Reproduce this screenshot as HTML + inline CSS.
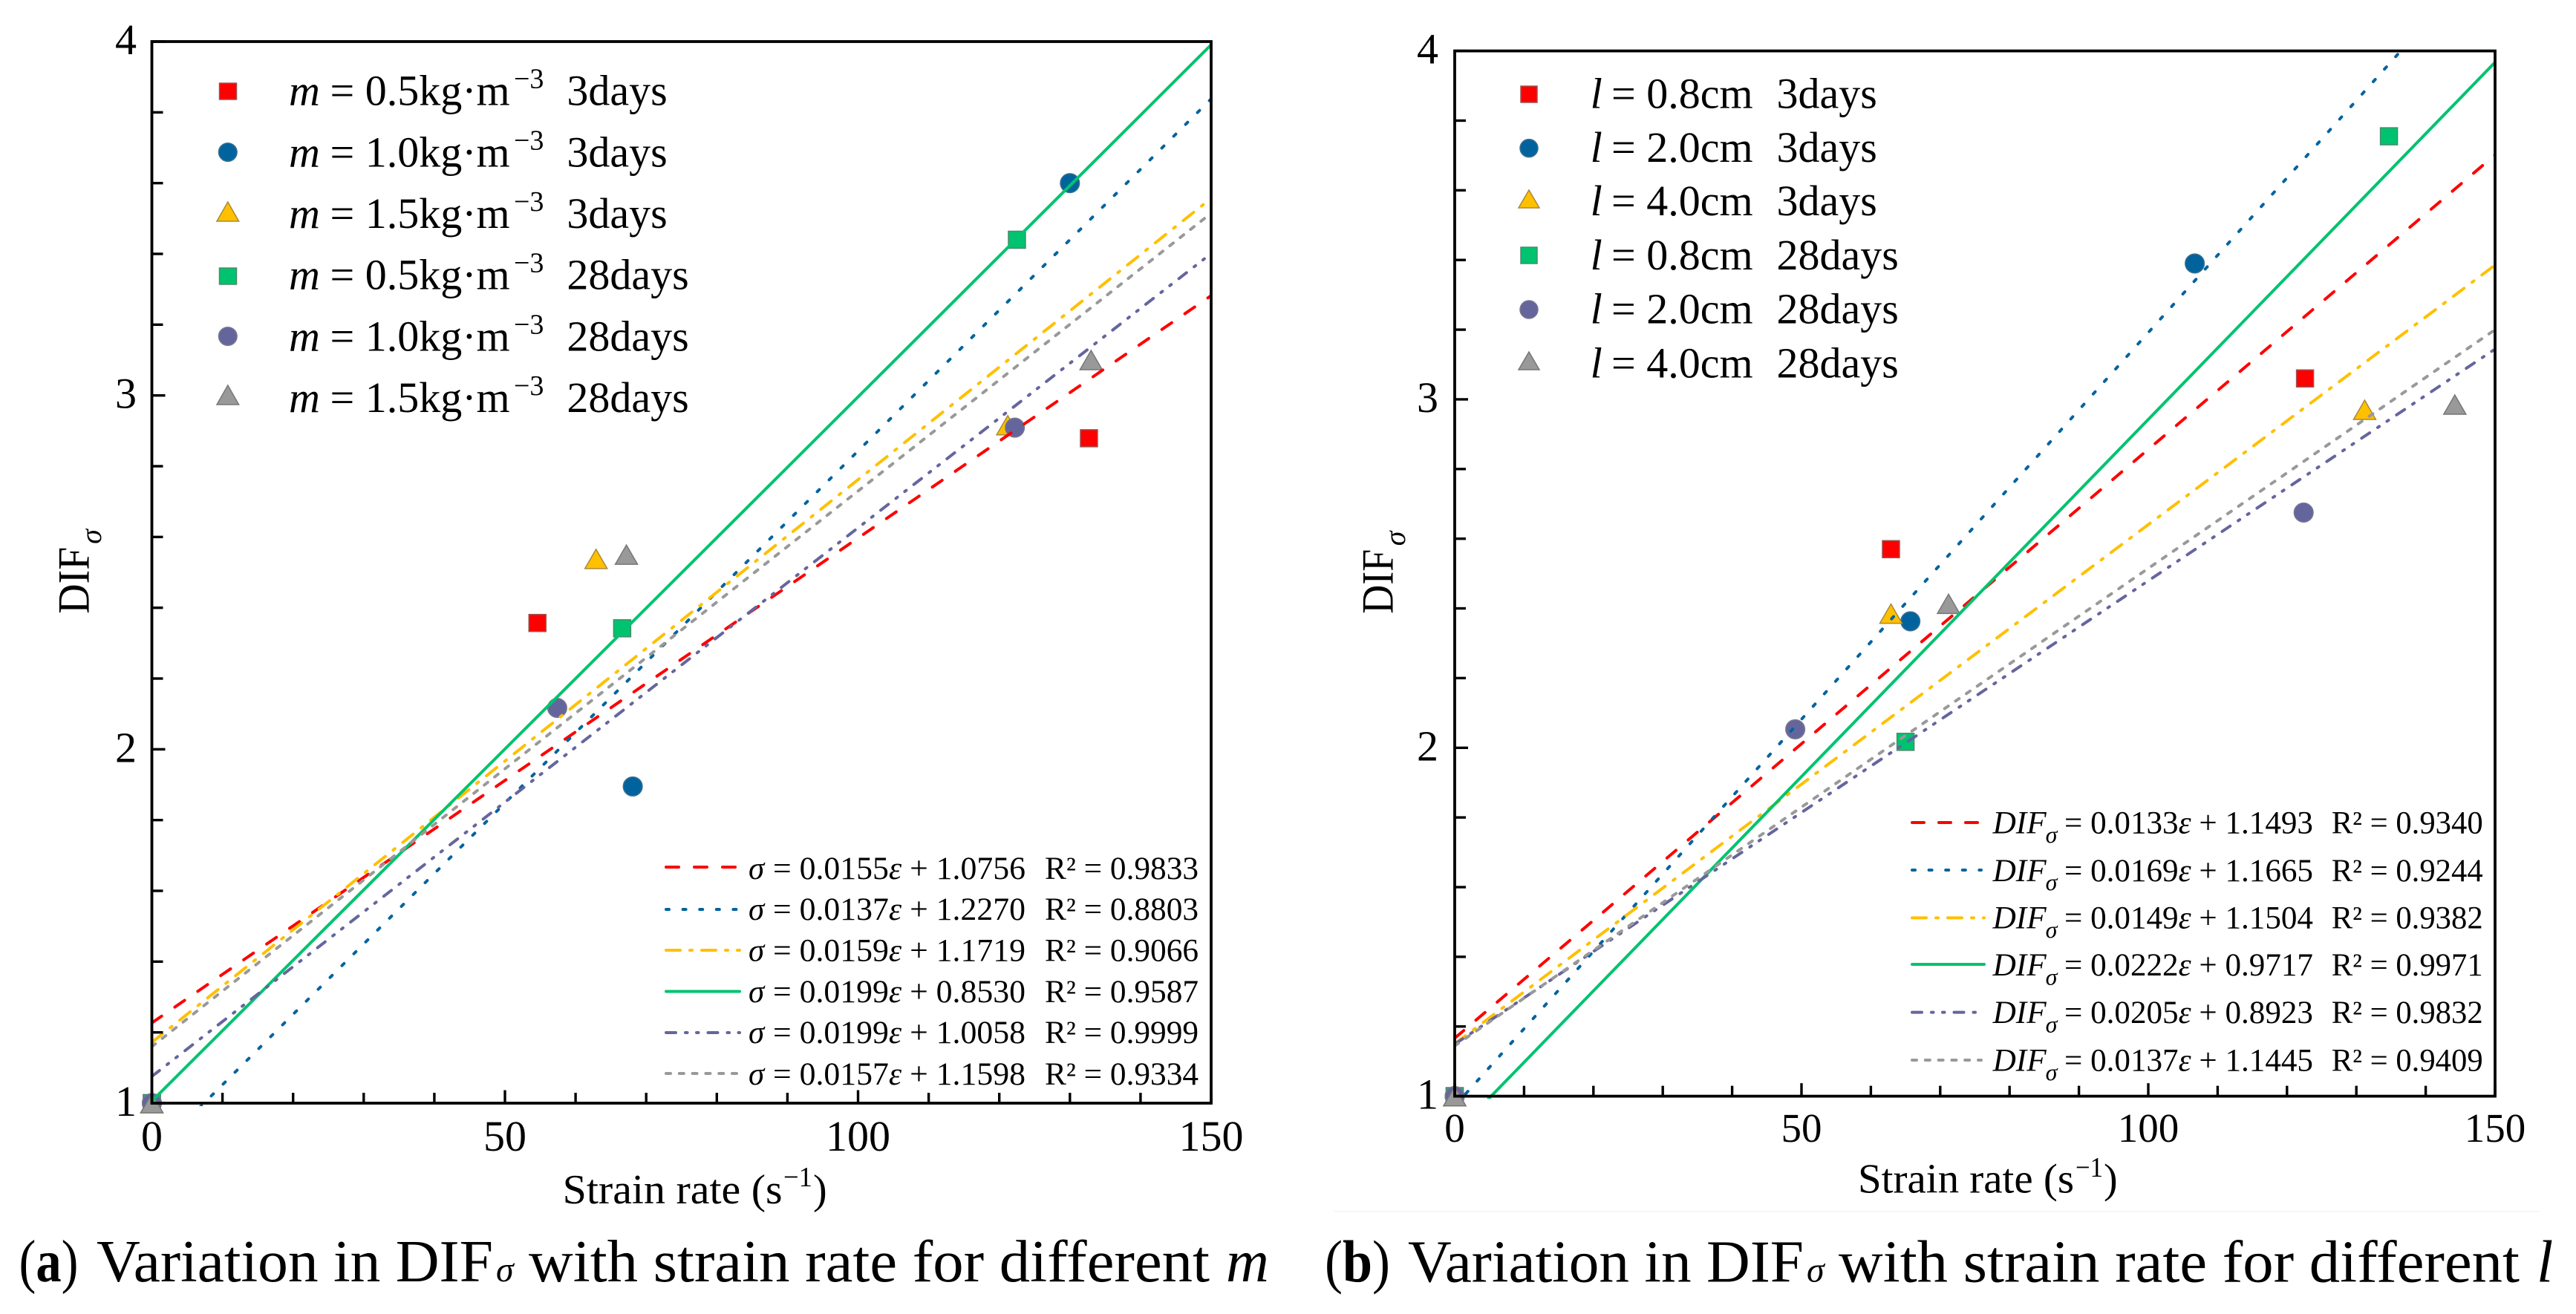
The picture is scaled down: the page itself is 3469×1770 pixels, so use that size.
<!DOCTYPE html>
<html lang="en">
<head>
<meta charset="utf-8">
<title>Variation in DIF with strain rate</title>
<style>
html,body{margin:0;padding:0;background:#fff;}
svg{display:block;}
text{font-family:"Liberation Serif","Times New Roman",serif;fill:#000;}
.it{font-style:italic;}
.lg{font-size:58px;}
.sup{font-size:38px;}
.eq{font-size:43px;}
.sub{font-size:32px;font-style:italic;}
.cap{font-size:80px;}
.ttl{font-size:56px;}
.ln{fill:none;stroke-width:4;stroke-linecap:round;}
.mk{stroke-width:1.5;}
</style>
</head>
<body>
<svg id="fig" xmlns="http://www.w3.org/2000/svg" width="3469" height="1770" viewBox="0 0 3469 1770">
<rect width="3469" height="1770" fill="#fff"/>
<defs>
<clipPath id="clipA"><rect x="204" y="56" width="1428" height="1434"/></clipPath>
<clipPath id="clipB"><rect x="1958" y="68" width="1403" height="1412"/></clipPath>
</defs>
<rect x="1796" y="1631" width="1624" height="1.5" fill="#f3f3f3"/>

<!-- PANEL A static -->
<g id="panelA"></g>
<g>
<g transform="translate(119.5 826.7) rotate(-90)">
<text x="0" y="0" style="font-size:60px" textLength="90" lengthAdjust="spacingAndGlyphs">DIF</text>
<text x="94" y="16.5" class="sub" style="font-size:40px">σ</text>
</g>
<text x="757.6" y="1621" class="ttl" textLength="296" lengthAdjust="spacingAndGlyphs">Strain rate (s</text>
<text x="1055" y="1598" class="sup" textLength="39" lengthAdjust="spacingAndGlyphs">−1</text>
<text x="1095" y="1621" class="ttl">)</text>
</g>
<g>
<rect class="mk" x="295.5" y="112" width="23" height="22" fill="#ff0000" stroke="#a05050"/>
<circle class="mk" cx="306.8" cy="205" r="12.3" fill="#00639e" stroke="#3a6f90"/>
<polygon class="mk" points="306.8,272 292,298 321.6,298" fill="#ffc000" stroke="#a8893a"/>
<rect class="mk" x="295.5" y="361" width="23" height="22" fill="#00c36f" stroke="#4a8a6e"/>
<circle class="mk" cx="306.8" cy="453" r="12.3" fill="#65659e" stroke="#77778f"/>
<polygon class="mk" points="306.8,519 292,545 321.6,545" fill="#999999" stroke="#777"/>

<g><text class="lg it" x="389" y="141.5">m</text><text class="lg" x="444.5" y="141.5">= 0.5kg·m</text><text class="sup" x="692" y="118.5">−3</text><text class="lg" x="763.4" y="141.5">3days</text></g>
<g><text class="lg it" x="389" y="224.5">m</text><text class="lg" x="444.5" y="224.5">= 1.0kg·m</text><text class="sup" x="692" y="201.5">−3</text><text class="lg" x="763.4" y="224.5">3days</text></g>
<g><text class="lg it" x="389" y="307">m</text><text class="lg" x="444.5" y="307">= 1.5kg·m</text><text class="sup" x="692" y="284">−3</text><text class="lg" x="763.4" y="307">3days</text></g>
<g><text class="lg it" x="389" y="389.5">m</text><text class="lg" x="444.5" y="389.5">= 0.5kg·m</text><text class="sup" x="692" y="366.5">−3</text><text class="lg" x="763.4" y="389.5">28days</text></g>
<g><text class="lg it" x="389" y="472.5">m</text><text class="lg" x="444.5" y="472.5">= 1.0kg·m</text><text class="sup" x="692" y="449.5">−3</text><text class="lg" x="763.4" y="472.5">28days</text></g>
<g><text class="lg it" x="389" y="555">m</text><text class="lg" x="444.5" y="555">= 1.5kg·m</text><text class="sup" x="692" y="532">−3</text><text class="lg" x="763.4" y="555">28days</text></g>
</g>

<g>
<line class="ln" x1="897" x2="993" y1="1168" y2="1168" stroke="#ff0000" stroke-dasharray="17 21"/>
<line class="ln" x1="897" x2="993" y1="1225" y2="1225" stroke="#00639e" stroke-dasharray="4 18.6"/>
<line class="ln" x1="897" x2="996" y1="1280" y2="1280" stroke="#ffc000" stroke-dasharray="19 13 3 13"/>
<line class="ln" x1="897" x2="996" y1="1335.5" y2="1335.5" stroke="#00c36f"/>
<line class="ln" x1="897" x2="996" y1="1391" y2="1391" stroke="#65659e" stroke-dasharray="13 13 2.5 12.5 2.5 13"/>
<line class="ln" x1="897" x2="993" y1="1446" y2="1446" stroke="#999999" stroke-dasharray="6 11.8"/>

<g><text class="eq it" x="1008" y="1184">σ</text><text class="eq" x="1041" y="1184" textLength="340" lengthAdjust="spacingAndGlyphs">= 0.0155<tspan class="it">ε</tspan> + 1.0756</text><text class="eq" x="1407" y="1184" textLength="207" lengthAdjust="spacingAndGlyphs">R² = 0.9833</text></g>
<g><text class="eq it" x="1008" y="1239">σ</text><text class="eq" x="1041" y="1239" textLength="340" lengthAdjust="spacingAndGlyphs">= 0.0137<tspan class="it">ε</tspan> + 1.2270</text><text class="eq" x="1407" y="1239" textLength="207" lengthAdjust="spacingAndGlyphs">R² = 0.8803</text></g>
<g><text class="eq it" x="1008" y="1294.5">σ</text><text class="eq" x="1041" y="1294.5" textLength="340" lengthAdjust="spacingAndGlyphs">= 0.0159<tspan class="it">ε</tspan> + 1.1719</text><text class="eq" x="1407" y="1294.5" textLength="207" lengthAdjust="spacingAndGlyphs">R² = 0.9066</text></g>
<g><text class="eq it" x="1008" y="1350">σ</text><text class="eq" x="1041" y="1350" textLength="340" lengthAdjust="spacingAndGlyphs">= 0.0199<tspan class="it">ε</tspan> + 0.8530</text><text class="eq" x="1407" y="1350" textLength="207" lengthAdjust="spacingAndGlyphs">R² = 0.9587</text></g>
<g><text class="eq it" x="1008" y="1405">σ</text><text class="eq" x="1041" y="1405" textLength="340" lengthAdjust="spacingAndGlyphs">= 0.0199<tspan class="it">ε</tspan> + 1.0058</text><text class="eq" x="1407" y="1405" textLength="207" lengthAdjust="spacingAndGlyphs">R² = 0.9999</text></g>
<g><text class="eq it" x="1008" y="1461">σ</text><text class="eq" x="1041" y="1461" textLength="340" lengthAdjust="spacingAndGlyphs">= 0.0157<tspan class="it">ε</tspan> + 1.1598</text><text class="eq" x="1407" y="1461" textLength="207" lengthAdjust="spacingAndGlyphs">R² = 0.9334</text></g>
</g>

<!-- PANEL B static -->
<g id="panelB"></g>
<g>
<g transform="translate(1875.3 826.7) rotate(-90)">
<text x="0" y="0" style="font-size:60px" textLength="87" lengthAdjust="spacingAndGlyphs">DIF</text>
<text x="91.5" y="16.5" class="sub" style="font-size:40px">σ</text>
</g>
<text x="2502" y="1606.5" class="ttl" textLength="291" lengthAdjust="spacingAndGlyphs">Strain rate (s</text>
<text x="2795" y="1585" class="sup" textLength="37" lengthAdjust="spacingAndGlyphs">−1</text>
<text x="2833" y="1606.5" class="ttl">)</text>
</g>
<g>
<rect class="mk" x="2048" y="116" width="22" height="22" fill="#ff0000" stroke="#a05050"/>
<circle class="mk" cx="2059" cy="199.6" r="12" fill="#00639e" stroke="#3a6f90"/>
<polygon class="mk" points="2059,256 2045,280 2073,280" fill="#ffc000" stroke="#a8893a"/>
<rect class="mk" x="2048" y="333" width="22" height="22" fill="#00c36f" stroke="#4a8a6e"/>
<circle class="mk" cx="2059" cy="417" r="12" fill="#65659e" stroke="#77778f"/>
<polygon class="mk" points="2059,474 2045,498 2073,498" fill="#999999" stroke="#777"/>

<g><text class="lg it" x="2141.6" y="145.7">l</text><text class="lg" x="2170" y="145.7">= 0.8cm</text><text class="lg" x="2392.5" y="145.7">3days</text></g>
<g><text class="lg it" x="2141.6" y="218">l</text><text class="lg" x="2170" y="218">= 2.0cm</text><text class="lg" x="2392.5" y="218">3days</text></g>
<g><text class="lg it" x="2141.6" y="290">l</text><text class="lg" x="2170" y="290">= 4.0cm</text><text class="lg" x="2392.5" y="290">3days</text></g>
<g><text class="lg it" x="2141.6" y="363">l</text><text class="lg" x="2170" y="363">= 0.8cm</text><text class="lg" x="2392.5" y="363">28days</text></g>
<g><text class="lg it" x="2141.6" y="435.7">l</text><text class="lg" x="2170" y="435.7">= 2.0cm</text><text class="lg" x="2392.5" y="435.7">28days</text></g>
<g><text class="lg it" x="2141.6" y="508.6">l</text><text class="lg" x="2170" y="508.6">= 4.0cm</text><text class="lg" x="2392.5" y="508.6">28days</text></g>
</g>

<g>
<line class="ln" x1="2575" x2="2666" y1="1108" y2="1108" stroke="#ff0000" stroke-dasharray="16 20"/>
<line class="ln" x1="2575" x2="2668" y1="1172" y2="1172" stroke="#00639e" stroke-dasharray="4 18.6"/>
<line class="ln" x1="2575" x2="2672" y1="1236.4" y2="1236.4" stroke="#ffc000" stroke-dasharray="19 13 3 13"/>
<line class="ln" x1="2575" x2="2672" y1="1299" y2="1299" stroke="#00c36f"/>
<line class="ln" x1="2575" x2="2672" y1="1363.6" y2="1363.6" stroke="#65659e" stroke-dasharray="13 13 2.5 12.5 2.5 13"/>
<line class="ln" x1="2575" x2="2668" y1="1428" y2="1428" stroke="#999999" stroke-dasharray="6 11.8"/>

<g><text class="eq it" x="2683.6" y="1122.5" textLength="72" lengthAdjust="spacingAndGlyphs">DIF</text><text class="sub" x="2754.6" y="1135">σ</text><text class="eq" x="2780" y="1122.5" textLength="335" lengthAdjust="spacingAndGlyphs">= 0.0133<tspan class="it">ε</tspan> + 1.1493</text><text class="eq" x="3139.7" y="1122.5" textLength="204" lengthAdjust="spacingAndGlyphs">R² = 0.9340</text></g>
<g><text class="eq it" x="2683.6" y="1186.8" textLength="72" lengthAdjust="spacingAndGlyphs">DIF</text><text class="sub" x="2754.6" y="1199">σ</text><text class="eq" x="2780" y="1186.8" textLength="335" lengthAdjust="spacingAndGlyphs">= 0.0169<tspan class="it">ε</tspan> + 1.1665</text><text class="eq" x="3139.7" y="1186.8" textLength="204" lengthAdjust="spacingAndGlyphs">R² = 0.9244</text></g>
<g><text class="eq it" x="2683.6" y="1250.6" textLength="72" lengthAdjust="spacingAndGlyphs">DIF</text><text class="sub" x="2754.6" y="1263">σ</text><text class="eq" x="2780" y="1250.6" textLength="335" lengthAdjust="spacingAndGlyphs">= 0.0149<tspan class="it">ε</tspan> + 1.1504</text><text class="eq" x="3139.7" y="1250.6" textLength="204" lengthAdjust="spacingAndGlyphs">R² = 0.9382</text></g>
<g><text class="eq it" x="2683.6" y="1314" textLength="72" lengthAdjust="spacingAndGlyphs">DIF</text><text class="sub" x="2754.6" y="1326.5">σ</text><text class="eq" x="2780" y="1314" textLength="335" lengthAdjust="spacingAndGlyphs">= 0.0222<tspan class="it">ε</tspan> + 0.9717</text><text class="eq" x="3139.7" y="1314" textLength="204" lengthAdjust="spacingAndGlyphs">R² = 0.9971</text></g>
<g><text class="eq it" x="2683.6" y="1378" textLength="72" lengthAdjust="spacingAndGlyphs">DIF</text><text class="sub" x="2754.6" y="1390.5">σ</text><text class="eq" x="2780" y="1378" textLength="335" lengthAdjust="spacingAndGlyphs">= 0.0205<tspan class="it">ε</tspan> + 0.8923</text><text class="eq" x="3139.7" y="1378" textLength="204" lengthAdjust="spacingAndGlyphs">R² = 0.9832</text></g>
<g><text class="eq it" x="2683.6" y="1442.6" textLength="72" lengthAdjust="spacingAndGlyphs">DIF</text><text class="sub" x="2754.6" y="1455">σ</text><text class="eq" x="2780" y="1442.6" textLength="335" lengthAdjust="spacingAndGlyphs">= 0.0137<tspan class="it">ε</tspan> + 1.1445</text><text class="eq" x="3139.7" y="1442.6" textLength="204" lengthAdjust="spacingAndGlyphs">R² = 0.9409</text></g>
</g>

<!-- Captions -->
<g>
<text class="cap" x="25.5" y="1726" textLength="80" lengthAdjust="spacingAndGlyphs">(<tspan font-weight="bold">a</tspan>)</text>
<text class="cap" x="130" y="1726" textLength="534" lengthAdjust="spacingAndGlyphs">Variation in DIF</text>
<text class="sub" style="font-size:48px" x="668" y="1726">σ</text>
<text class="cap" x="712" y="1726" textLength="917" lengthAdjust="spacingAndGlyphs">with strain rate for different</text>
<text class="cap it" x="1651" y="1726">m</text>
</g>
<g>
<text class="cap" x="1784" y="1726.5" textLength="88" lengthAdjust="spacingAndGlyphs">(<tspan font-weight="bold">b</tspan>)</text>
<text class="cap" x="1896" y="1726.5" textLength="533" lengthAdjust="spacingAndGlyphs">Variation in DIF</text>
<text class="sub" style="font-size:48px" x="2433" y="1726.5">σ</text>
<text class="cap" x="2476" y="1726.5" textLength="917" lengthAdjust="spacingAndGlyphs">with strain rate for different</text>
<text class="cap it" x="3416" y="1726.5">l</text>
</g>
</svg>

<script>
// Shared axis values
const xTickValues = [0, 50, 100, 150];
const xTickLabels = ['0', '50', '100', '150'];
const xMinorValues = [10, 20, 30, 40, 60, 70, 80, 90, 110, 120, 130, 140];
const yTickValues = [1, 2, 3, 4];
const yTickLabels = ['1', '2', '3', '4'];
const yMinorValues = [1.2, 1.4, 1.6, 1.8, 2.2, 2.4, 2.6, 2.8, 3.2, 3.4, 3.6, 3.8];
const fitXValues = [0, 150];

// Panel (a) measured points, strain rate
const aM05d3X = [0, 54.6, 132.7];
const aM10d3X = [0, 68.1, 130];
const aM15d3X = [0, 62.9, 121.2];
const aM05d28X = [0, 66.6, 122.5];
const aM10d28X = [0, 57.4, 122.2];
const aM15d28X = [0, 67.2, 133];
// Panel (a) measured points, DIF
const aM05d3Y = [1, 2.357, 2.879];
const aM10d3Y = [1, 1.895, 3.6];
const aM15d3Y = [1, 2.538, 2.916];
const aM05d28Y = [1, 2.342, 3.44];
const aM10d28Y = [1, 2.117, 2.909];
const aM15d28Y = [1, 2.55, 3.10];
// Panel (a) fit lines, DIF at strain rate 0 and 150
const aFitRed = [1.227, 3.282];
const aFitBlue = [0.853, 3.838];
const aFitYellow = [1.1719, 3.557];
const aFitGreen = [1.0058, 3.991];
const aFitPurple = [1.0756, 3.401];
const aFitGray = [1.1598, 3.515];

// Panel (b) measured points, strain rate
const bL08d3X = [0, 62.9, 122.6];
const bL20d3X = [0, 65.7, 106.7];
const bL40d3X = [0, 62.9, 131.2];
const bL08d28X = [0, 65, 134.7];
const bL20d28X = [0, 49.1, 122.4];
const bL40d28X = [0, 71.2, 144.2];
// Panel (b) measured points, DIF
const bL08d3Y = [1, 2.57, 3.06];
const bL20d3Y = [1, 2.363, 3.39];
const bL40d3Y = [1, 2.385, 2.97];
const bL08d28Y = [1, 2.017, 3.755];
const bL20d28Y = [1, 2.053, 2.675];
const bL40d28Y = [1, 2.413, 2.985];
// Panel (b) fit lines, DIF at strain rate 0 and 150
const bFitRed = [1.1665, 3.7015];
const bFitBlue = [0.9717, 4.3017];
const bFitYellow = [1.1504, 3.3854];
const bFitGreen = [0.8923, 3.9673];
const bFitPurple = [1.1493, 3.1443];
const bFitGray = [1.1445, 3.2];

const NS = 'http://www.w3.org/2000/svg';
const styles = {
  red:    {fill: '#ff0000', edge: '#a05050', dash: '16 21.5', shape: 'square'},
  blue:   {fill: '#00639e', edge: '#3a6f90', dash: '4 18.6', shape: 'circle'},
  yellow: {fill: '#ffc000', edge: '#a8893a', dash: '18 13.5 3 13.5', shape: 'triangle'},
  green:  {fill: '#00c36f', edge: '#4a8a6e', dash: 'none', shape: 'square'},
  purple: {fill: '#65659e', edge: '#77778f', dash: '13 13 2.5 12.5 2.5 13', shape: 'circle'},
  gray:   {fill: '#999999', edge: '#777777', dash: '6 11.8', shape: 'triangle'}
};

function make(parent, tag, attrs) {
  const el = document.createElementNS(NS, tag);
  for (const k in attrs) el.setAttribute(k, attrs[k]);
  parent.appendChild(el);
  return el;
}

function drawMarker(parent, style, cx, cy) {
  let el;
  if (style.shape === 'square') {
    el = make(parent, 'rect', {x: cx - 11.5, y: cy - 11.5, width: 23, height: 23});
  } else if (style.shape === 'circle') {
    el = make(parent, 'circle', {cx: cx, cy: cy, r: 12.8});
  } else {
    el = make(parent, 'polygon', {points: (cx) + ',' + (cy - 13) + ' ' + (cx - 15) + ',' + (cy + 13) + ' ' + (cx + 15) + ',' + (cy + 13)});
  }
  el.setAttribute('fill', style.fill);
  el.setAttribute('stroke', style.edge);
  el.setAttribute('stroke-width', '1.5');
  
  
}

function drawPanel(root, g) {
  const sx = v => g.left + (v - 0) / 150 * (g.right - g.left);
  const sy = v => g.bottom - (v - 1) / 3 * (g.bottom - g.top);

  // markers
  g.points.forEach(s => {
    const st = styles[s.color];
    s.x.forEach((xv, i) => drawMarker(root, st, sx(xv), sy(s.y[i])));
  });

  // fit lines
  const lines = make(root, 'g', {'clip-path': 'url(#' + g.clip + ')'});
  
  
  g.fits.forEach(s => {
    const st = styles[s.color];
    const ln = make(lines, 'line', {
      x1: sx(fitXValues[0]), y1: sy(s.y[0]),
      x2: sx(fitXValues[1]), y2: sy(s.y[1]),
      stroke: st.fill, 'stroke-width': 4, 'stroke-dasharray': st.dash,
      'stroke-linecap': st.dash === 'none' ? 'butt' : 'round'
    });
    
    
  });

  // frame
  const frame = make(root, 'rect', {
    x: g.left, y: g.top, width: g.right - g.left, height: g.bottom - g.top,
    fill: 'none', stroke: '#000', 'stroke-width': 3.8
  });
  
  

  // ticks
  const tick = (x1, y1, x2, y2, name) => {
    const t = make(root, 'line', {x1, y1, x2, y2, stroke: '#000', 'stroke-width': 3.4});
    
    
  };
  xMinorValues.forEach(v => tick(sx(v), g.bottom, sx(v), g.bottom - 14, 'x-minor-tick'));
  xTickValues.forEach(v => tick(sx(v), g.bottom, sx(v), g.bottom - 17.5, 'x-major-tick'));
  yMinorValues.forEach(v => tick(g.left, sy(v), g.left + 15, sy(v), 'y-minor-tick'));
  yTickValues.forEach(v => tick(g.left, sy(v), g.left + 18, sy(v), 'y-major-tick'));

  // tick labels
  xTickValues.forEach((v, i) => {
    const t = make(root, 'text', {x: sx(v), y: g.xLabelY, 'text-anchor': 'middle', 'font-size': g.xFont});
    t.textContent = xTickLabels[i];
    
    
  });
  yTickValues.forEach((v, i) => {
    const t = make(root, 'text', {x: g.yLabelX, y: sy(v) + 17, 'text-anchor': 'end', 'font-size': 58});
    t.textContent = yTickLabels[i];
    
    
  });
}

drawPanel(document.getElementById('panelA'), {
  left: 204.5, right: 1631, top: 56, bottom: 1486, clip: 'clipA',
  xLabelY: 1550, yLabelX: 184, xFont: 58,
  points: [
    {color: 'red', x: aM05d3X, y: aM05d3Y},
    {color: 'blue', x: aM10d3X, y: aM10d3Y},
    {color: 'yellow', x: aM15d3X, y: aM15d3Y},
    {color: 'green', x: aM05d28X, y: aM05d28Y},
    {color: 'purple', x: aM10d28X, y: aM10d28Y},
    {color: 'gray', x: aM15d28X, y: aM15d28Y}
  ],
  fits: [
    {color: 'red', y: aFitRed},
    {color: 'blue', y: aFitBlue},
    {color: 'yellow', y: aFitYellow},
    {color: 'green', y: aFitGreen},
    {color: 'purple', y: aFitPurple},
    {color: 'gray', y: aFitGray}
  ]
});

drawPanel(document.getElementById('panelB'), {
  left: 1959, right: 3360, top: 68.6, bottom: 1476.6, clip: 'clipB',
  xLabelY: 1538, yLabelX: 1937, xFont: 55,
  points: [
    {color: 'red', x: bL08d3X, y: bL08d3Y},
    {color: 'blue', x: bL20d3X, y: bL20d3Y},
    {color: 'yellow', x: bL40d3X, y: bL40d3Y},
    {color: 'green', x: bL08d28X, y: bL08d28Y},
    {color: 'purple', x: bL20d28X, y: bL20d28Y},
    {color: 'gray', x: bL40d28X, y: bL40d28Y}
  ],
  fits: [
    {color: 'red', y: bFitRed},
    {color: 'blue', y: bFitBlue},
    {color: 'yellow', y: bFitYellow},
    {color: 'green', y: bFitGreen},
    {color: 'purple', y: bFitPurple},
    {color: 'gray', y: bFitGray}
  ]
});
</script>
</body>
</html>
